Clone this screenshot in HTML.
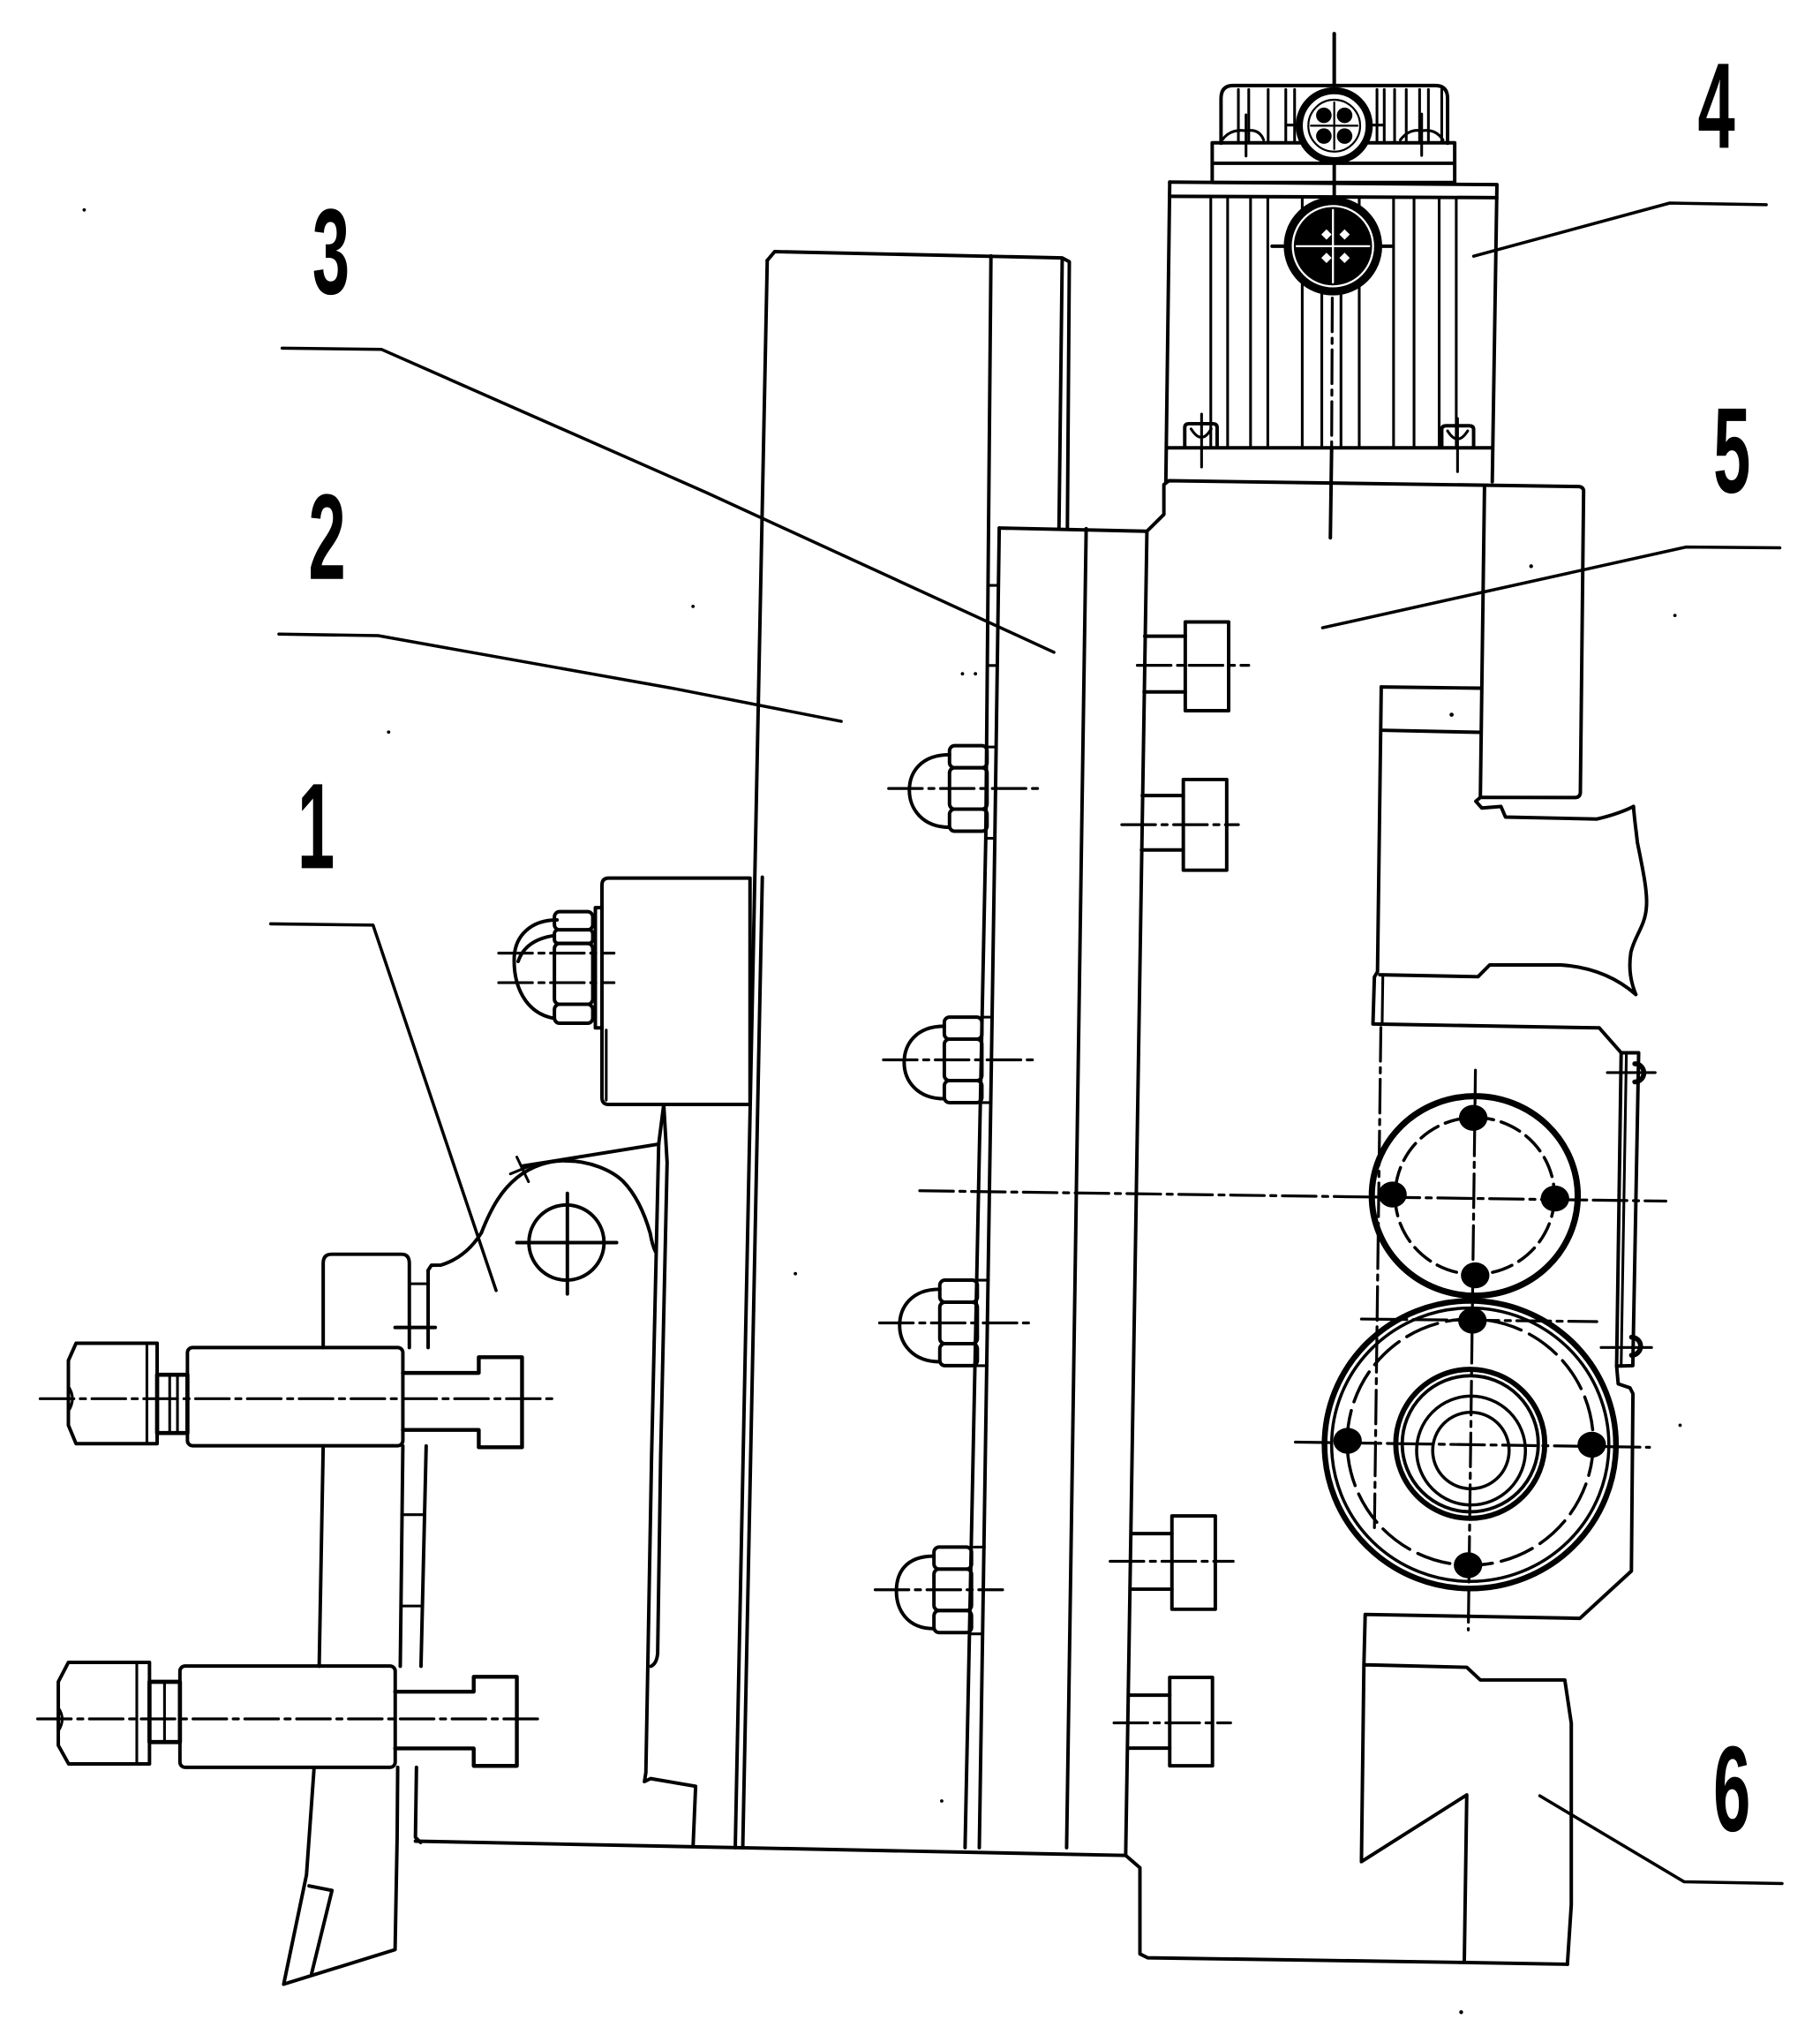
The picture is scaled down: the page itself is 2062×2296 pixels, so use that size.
<!DOCTYPE html>
<html><head><meta charset="utf-8"><style>
html,body{margin:0;padding:0;background:#fff;}
svg{display:block;}
.t{font-family:"Liberation Sans",sans-serif;font-weight:bold;font-size:94px;fill:#000;stroke:none;}
.cl{stroke-width:2.2;stroke-dasharray:26 5 4 5;}
.th{stroke-width:2.1;}
</style></head><body>
<svg width="2062" height="2296" viewBox="0 0 1405 1564.4" xmlns="http://www.w3.org/2000/svg">
<rect width="1405" height="1565" fill="#fff"/>

<!-- labels -->
<text class="t" text-anchor="middle" transform="translate(1325,114) scale(0.55,1)">4</text>
<text class="t" text-anchor="middle" transform="translate(255.5,226.6) scale(0.55,1)">3</text>
<text class="t" text-anchor="middle" transform="translate(1337,380) scale(0.55,1)">5</text>
<text class="t" text-anchor="middle" transform="translate(252.5,446.8) scale(0.55,1)">2</text>
<text class="t" text-anchor="middle" transform="translate(244,670) scale(0.55,1)">1</text>
<text class="t" text-anchor="middle" transform="translate(1337,1413) scale(0.55,1)">6</text>

<g fill="none" stroke="#000" stroke-width="2.7" stroke-linecap="round" stroke-linejoin="round">

<!-- leaders -->
<g stroke-width="2.4">
<polyline points="1137.6,197.7 1289,156.7 1363.5,158"/>
<polyline points="1021,484.5 1301.5,422.2 1374,422.8"/>
<polyline points="1188.7,1386 1300,1452.3 1375.7,1453.7"/>
<polyline points="217.8,268.7 294.4,269.6 545,380 813.6,503.4"/>
<polyline points="215.3,489.4 292,490.6 520.8,531.5 649.4,556.7"/>
<polyline points="209,713 288,714 383,996"/>
</g>

<!-- ===== Plate 2 ===== -->
<path d="M592.3,201 L598,194.2 L820,199 L825.5,202 L824,408"/>
<path d="M820,199.5 L817.5,408"/>
<path d="M592.3,201 L567.6,1426"/>
<path d="M588.5,677 L573.4,1426"/>
<polyline points="765,197.5 761,647 745,1426"/>

<!-- ===== Plate 3 ===== -->
<path d="M771.4,407.5 L885.4,410"/>
<polyline points="771.4,407.5 768,647 756,1426"/>
<path d="M838.5,408 L823.4,1426"/>
<g class="th">
<path d="M763,451.8 L770,451.8 M763,513.6 L770,513.6 M762,576.5 L769,576.5 M761,647 L768,647 M758,785 L766,785 M757,851 L765,851 M755,988 L763,988 M754,1054 L762,1054 M752,1194 L760,1194 M750,1261 L758,1261"/>
</g>

<!-- base line -->
<path d="M320.7,1421 L869,1432"/>

<!-- ===== Plate 5 ===== -->
<path d="M885.4,410 L869,1432 L880,1441.5 L880,1508 L886,1511 L1128.7,1514.6 L1210,1516"/>
<path d="M885.4,410 L898.5,397 L898.5,374 L902.3,371 L1219,375.5 Q1223,376 1222.5,380 L1220,612 Q1219.5,615.5 1216,615.5 L1142.8,615.4 L1139.3,618.4 L1143.9,623.6 L1158.7,622.4 L1162.2,630.6 L1232.8,632.1 Q1250,628 1261,622.4"/>
<path d="M1261,622.4 C1262,635 1263,640 1264,650 C1268,670 1272,688 1271,700 C1270,715 1262,722 1259,735 C1257,748 1259,758 1262.8,767.5"/>
<path d="M1262.8,767.5 C1245,752 1225,746 1204.6,744.7 L1150,744.7 L1141,753.8 L1065.2,752.3"/>
<path d="M1146,376 L1142.8,615.4"/>
<path d="M1066.3,530.2 L1142.8,531.1 M1067.7,563.6 L1142.8,565.2"/>
<path d="M1066.3,530.2 L1063.4,750 L1061,754 L1059.9,790.3 L1234.6,793.3 L1251.5,812.5"/>
<path class="th" d="M1067.5,754 L1067,790"/>
<path d="M1251.5,812.5 L1248,1054.3 L1249.2,1068 L1258.3,1071.1 L1260.6,1075.6 L1259.4,1212.5 L1219.7,1249 L1053.9,1246 L1052.9,1285 L1051,1436.8 L1132.3,1385.3 L1130.4,1514.6"/>
<path d="M1053,1285 L1058,1285 L1132.3,1286.8 L1142.8,1296.6 L1208,1296.6 L1213,1330 L1213,1470 L1210,1516"/>
<!-- bracket bar -->
<path d="M1251.5,812.5 L1265,812.5 L1260.5,1054 L1248,1054.3"/>
<path class="th" d="M1255.5,814 L1251.5,1054"/>
<path d="M1262,821 A7,7 0 0 1 1262,835" stroke-width="3.8"/>
<path d="M1259.5,1032 A7,7 0 0 1 1259.5,1046" stroke-width="3.8"/>
<path class="th" d="M1240.8,827.8 L1277.8,827.8 M1236,1040 L1275,1040"/>
<path class="cl" d="M1066,793 L1061,1182" stroke-dasharray="20 6 4 6"/>

<!-- plate 5 bolts -->
<rect x="915" y="480" width="33.5" height="68.5"/>
<path d="M883.7,491 L915,491 M883.2,534 L915,534"/>
<path class="cl" d="M878,513.5 L964,513.5"/>
<rect x="913.5" y="601.6" width="33.5" height="70"/>
<path d="M881.8,614 L913.5,614 M881.2,656 L913.5,656"/>
<path class="cl" d="M866,636.5 L956,636.5"/>
<rect x="904.7" y="1170" width="33.5" height="72"/>
<path d="M873.2,1183.6 L904.7,1183.6 M872.5,1226.5 L904.7,1226.5"/>
<path class="cl" d="M857,1205 L952,1205"/>
<rect x="903" y="1294.6" width="33" height="68.2"/>
<path d="M871.2,1308.3 L903,1308.3 M870.6,1349.2 L903,1349.2"/>
<path class="cl" d="M860,1329.7 L950,1329.7"/>

<!-- ===== Gears ===== -->
<path class="cl" d="M710,919 L1286,927"/>
<path class="cl" d="M1051,1018 L1232.7,1020"/>
<path class="cl" d="M1000,1113 L1273.4,1117"/>
<path class="cl" d="M1139,826 L1133.5,1258"/>
<ellipse cx="1138.5" cy="923" rx="79.5" ry="77" stroke-width="4.8"/>
<ellipse cx="1138.5" cy="923" rx="61.5" ry="60.5" stroke-width="2.4" stroke-dasharray="16 6"/>
<g fill="#000" stroke="none">
<ellipse cx="1137.3" cy="862.7" rx="11" ry="10"/>
<ellipse cx="1075" cy="921.9" rx="11" ry="10"/>
<ellipse cx="1200.4" cy="925" rx="11" ry="10"/>
<ellipse cx="1138.8" cy="984.3" rx="11" ry="10"/>
</g>
<ellipse cx="1135" cy="1115" rx="112.5" ry="111" stroke-width="4.4"/>
<ellipse cx="1135" cy="1115" rx="107" ry="105.5" stroke-width="2.4"/>
<ellipse cx="1135" cy="1113" rx="95" ry="95" stroke-width="2.4" stroke-dasharray="26 7"/>
<g fill="#000" stroke="none">
<ellipse cx="1136.7" cy="1019.3" rx="11" ry="10"/>
<ellipse cx="1040.3" cy="1112" rx="11" ry="10"/>
<ellipse cx="1228.8" cy="1115" rx="11" ry="10"/>
<ellipse cx="1133.3" cy="1208" rx="11" ry="10"/>
</g>
<circle cx="1135" cy="1114.3" r="57.5" stroke-width="4"/>
<circle cx="1135" cy="1114.3" r="52.5" stroke-width="2.6"/>
<circle cx="1135.6" cy="1119.5" r="42" stroke-width="2.4"/>
<circle cx="1135.5" cy="1119.5" r="29.5" stroke-width="2.4"/>

<!-- ===== Motor (4) ===== -->
<path d="M1030,26 L1030,66" stroke-width="2.8"/>
<path d="M942.6,110.5 L942.6,76 Q942.6,66 952,66 L1108,66 Q1117.5,66 1117.5,76 L1117.5,110.5"/>
<g class="th">
<path d="M956,69 L956,110 M964,69 L964,110 M979,69 L979,110 M992.6,69 L992.6,110 M999.4,69 L999.4,110 M1063,69 L1063,110 M1068.6,69 L1068.6,110 M1076.6,69 L1076.6,110 M1085.6,69 L1085.6,110 M1095.9,69 L1095.9,110 M1102.7,69 L1102.7,110 M1113,69 L1113,110"/>
<path d="M993,96.5 L1068,96.5"/>
<path d="M943.5,108 Q950,99 961.9,101 Q972,99 975.5,108 M961.9,88.6 L961.9,120.4"/>
<path d="M1081,108 Q1088,99 1097.5,101 Q1108,99 1114,108 M1097.5,88 L1097.5,120"/>
</g>
<rect x="935.8" y="110.2" width="187.2" height="30.6"/>
<path d="M936,126 L1123,126"/>
<path d="M1030,110 L1030,152"/>
<circle cx="1030" cy="97" r="27" fill="#fff" stroke-width="5.5"/>
<circle cx="1030" cy="97" r="20" stroke-width="1.5"/>
<g fill="#000" stroke="none">
<circle cx="1022" cy="89" r="6"/><circle cx="1038" cy="89" r="6"/>
<circle cx="1022" cy="105" r="6"/><circle cx="1038" cy="105" r="6"/>
</g>
<path d="M1030,79 L1030,115 M1012,97 L1048,97" stroke-width="1.5"/>
<!-- body -->
<path d="M903,140.5 L1155.6,142.5 L1152,371.7"/>
<path d="M903,140.5 L900,372"/>
<path d="M903,151.5 L1155.5,152.5"/>
<path d="M901,345.6 L1152,345.6"/>
<g class="th">
<path d="M934.7,152.5 L934.7,345.6 M947.7,152.5 L947.7,345.6 M965.4,152.5 L965.4,345.6 M978.7,152.5 L978.7,345.6 M1005.3,152.5 L1005.3,345.6 M1020.4,152.5 L1020.4,345.6 M1035.2,152.5 L1035.2,345.6 M1049.3,152.5 L1049.3,345.6 M1075.8,152.5 L1075.8,345.6 M1091.6,152.5 L1091.6,345.6 M1111,152.5 L1111,345.6 M1124.2,152.5 L1124.2,345.6"/>
</g>
<path d="M982,190 L1074,190"/>
<circle cx="1029" cy="190" r="38" fill="#000" stroke="none"/>
<circle cx="1029" cy="190" r="31" stroke="#fff" stroke-width="1.6"/>
<path d="M1029,162 L1029,218 M1001,190 L1057,190" stroke="#fff" stroke-width="1.6"/>
<g fill="#fff" stroke="none">
<path d="M1020,181 l4,-4 l4,4 l-4,4 z"/><path d="M1034,181 l4,-4 l4,4 l-4,4 z"/>
<path d="M1020,199 l4,-4 l4,4 l-4,4 z"/><path d="M1034,199 l4,-4 l4,4 l-4,4 z"/>
</g>
<path class="cl" d="M1028.5,230 L1028,345"/>
<path d="M1028,345 L1027,415"/>
<path d="M914.6,345 L914.6,330 Q914.6,327 918,327 L936,327 Q939.6,327 939.6,330 L939.6,345"/>
<path class="th" d="M919.5,331 Q927.6,344 935,331 M927.6,319.6 L927.6,360.4"/>
<path d="M1113,345.5 L1113,331.5 Q1113,328.6 1116.5,328.6 L1134,328.6 Q1137.6,328.6 1137.6,331.5 L1137.6,345.5"/>
<path class="th" d="M1117.5,332.5 Q1125.2,345 1133,332.5 M1125.2,323 L1125.2,364"/>

<!-- ===== Plate 2 acorn nuts ===== -->
<g>
<rect x="733" y="575.5" width="29" height="17" rx="4"/>
<rect x="733" y="592.5" width="29" height="32" rx="4"/>
<rect x="733" y="624.5" width="29" height="17" rx="4"/>
<path d="M733,582.5 C711,582.5 702,596 702,610 C702,624 712,638.5 733,638.5"/>
<path class="cl" d="M686,608.5 L805,608.5"/>
</g>
<g>
<rect x="729" y="785" width="29" height="17" rx="4"/>
<rect x="729" y="802" width="29" height="32" rx="4"/>
<rect x="729" y="834" width="29" height="17" rx="4"/>
<path d="M729,792 C707,792 698,806 698,820 C698,834 708,848 729,848"/>
<path class="cl" d="M682,818 L801,818"/>
</g>
<g>
<rect x="725.5" y="988" width="29" height="17" rx="4"/>
<rect x="725.5" y="1005" width="29" height="32" rx="4"/>
<rect x="725.5" y="1037" width="29" height="17" rx="4"/>
<path d="M725.5,995 C703.5,995 694.5,1009 694.5,1023 C694.5,1037 704.5,1051 725.5,1051"/>
<path class="cl" d="M679,1021 L796,1021"/>
</g>
<g>
<rect x="721" y="1194" width="29" height="17" rx="4"/>
<rect x="721" y="1211" width="29" height="32" rx="4"/>
<rect x="721" y="1243" width="29" height="17" rx="4"/>
<path d="M721,1201 C699,1201 692,1214 692,1228 C692,1242 700,1257 721,1257"/>
<path class="cl" d="M675.6,1227 L774,1227"/>
</g>

<!-- ===== Block with acorn nut ===== -->
<path d="M464.7,683 Q464.7,677.7 470,677.7 L579,677.7 L579,852.4 L470,852.4 Q464.7,852.4 464.7,847 Z"/>
<path d="M464.7,700.5 L459.6,700.5 L459.6,793.3 L464.7,793.3"/>
<path class="th" d="M468,795 L468,849"/>
<rect x="428" y="703.6" width="29.6" height="14" rx="4"/>
<rect x="428" y="717.6" width="29.6" height="10.5" rx="3"/>
<rect x="428" y="728.1" width="29.6" height="47" rx="4"/>
<rect x="428" y="775.1" width="29.6" height="14.6" rx="4"/>
<path d="M430,710 C410,710 398,722 397,738 C396,760 405,782 428,786"/>
<path d="M428,722 C414,724 404,730 400,742"/>
<path class="cl" d="M385,735.6 L474,735.6"/>
<path class="cl" d="M385,758.4 L474,758.4"/>

<!-- ===== Part 1 lever ===== -->
<path d="M330.5,1040 L330.5,980.4 L333,976.5 L340.3,976.4 C355,972 365,962 371.6,951.5 C380,930 388,918 399,909 C410,900 425,895 438,896 C455,896 472,903 481,911.7 C492,923 498,938 502,952 C503,958 504,962 506,966"/>
<path d="M403,900 L508.5,883"/>
<path class="th" d="M399,893 L408,912 M394,906 L411,899"/>
<path d="M512.4,852.4 L508.5,883 L503,1124 L498.6,1368 L497.5,1375 L502.2,1372.7 L537,1378.6 L535.1,1423.7"/>
<path d="M512.4,852.4 L515,897 L510,1124 L507.7,1276 Q507,1284 502.5,1286"/>
<circle cx="437.3" cy="959" r="29"/>
<path d="M399,959 L476,959 M438,921 L438,998.6"/>

<!-- vertical bar -->
<path d="M249.5,1040 L249.5,975 Q249.5,968 256,968 L310,968 Q316,968 316,975 L316,1040"/>
<path d="M249.5,1116 L246.4,1286"/>
<path d="M242.5,1364 L236.6,1447 L219,1531.4 L305,1504.7 L306.6,1417.7 L307,1364"/>
<path d="M238.6,1455.5 L256.3,1459 L240.6,1523"/>
<path d="M311,1116 L309,1286"/>
<path d="M329,1116 L325,1286"/>
<path d="M321.5,1364 L320.7,1418 L324.7,1422"/>
<path class="th" d="M316,990.8 L330.5,990.8 M310,1169 L327,1169 M309.5,1239.5 L326,1239.5"/>
<path d="M305,1024.5 L336,1024.5"/>

<!-- upper bolt -->
<path d="M58.7,1036.7 L121.3,1036.7 L121.3,1114.2 L58.7,1114.2 L52.8,1100 L52.8,1050 Z"/>
<path class="th" d="M113.4,1037 L113.4,1114 M52.8,1070 Q59,1079.5 52.8,1089"/>
<rect x="121.3" y="1061" width="23.4" height="45" stroke-width="3.2"/>
<path class="th" d="M131,1061 L131,1106 M137,1061 L137,1106"/>
<rect x="144.7" y="1040" width="166.3" height="75.8" rx="4"/>
<path d="M311,1059.6 L369.6,1059.6 L369.6,1047.5 L403,1047.5 L403,1117 L369.6,1117 L369.6,1103.6 L311,1103.6" stroke-width="3"/>
<path class="cl" d="M31,1079.5 L426,1079.5"/>

<!-- lower bolt -->
<path d="M52.8,1283 L115.4,1283 L115.4,1361.4 L53,1361.4 L45,1347 L45,1298 Z"/>
<path class="th" d="M105.6,1284 L105.6,1361 M45,1318 Q51,1326.6 45,1336"/>
<rect x="115.4" y="1298" width="23.5" height="46.5" stroke-width="3.2"/>
<path class="th" d="M127,1298 L127,1344.5"/>
<rect x="138.9" y="1285.8" width="166.2" height="78.2" rx="4"/>
<path d="M305,1305.6 L365.7,1305.6 L365.7,1294.1 L399,1294.1 L399,1362.9 L365.7,1362.9 L365.7,1349.4 L305,1349.4" stroke-width="3"/>
<path class="cl" d="M29,1326.6 L418.5,1326.6"/>
</g>

<!-- scan dots -->
<g fill="#000">
<circle cx="65" cy="162" r="1.3"/><circle cx="535" cy="468" r="1.3"/><circle cx="300" cy="565" r="1.3"/>
<circle cx="614" cy="983" r="1.3"/><circle cx="727" cy="1390" r="1.3"/><circle cx="1182" cy="437" r="1.5"/>
<circle cx="1293" cy="475" r="1.3"/><circle cx="1297" cy="1100" r="1.3"/><circle cx="1128" cy="1553" r="1.5"/>
<circle cx="743" cy="520" r="1.3"/><circle cx="753" cy="520" r="1.3"/><circle cx="1120.6" cy="551.6" r="1.6"/>
</g>
</svg>
</body></html>
